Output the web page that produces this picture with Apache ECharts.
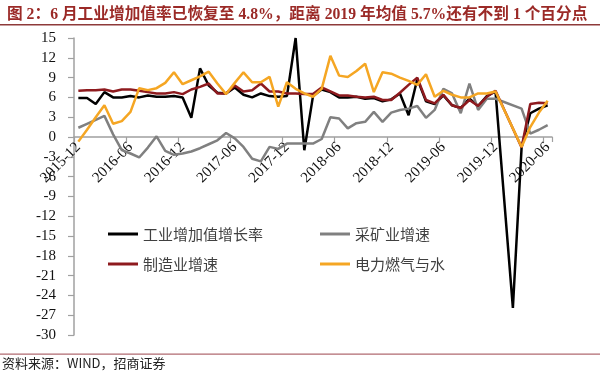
<!DOCTYPE html>
<html>
<head>
<meta charset="utf-8">
<script src="https://cdn.jsdelivr.net/npm/echarts@6/dist/echarts.min.js"></script>
<style>
html,body{margin:0;padding:0;background:#fff;}
#chart{width:600px;height:372px;}
</style>
</head>
<body>
<div id="chart"></div>
<script>
const categories = ['2015-12','2016-01','2016-02','2016-03','2016-04','2016-05','2016-06','2016-07','2016-08','2016-09','2016-10','2016-11',
'2016-12','2017-01','2017-02','2017-03','2017-04','2017-05','2017-06','2017-07','2017-08','2017-09','2017-10','2017-11',
'2017-12','2018-01','2018-02','2018-03','2018-04','2018-05','2018-06','2018-07','2018-08','2018-09','2018-10','2018-11',
'2018-12','2019-01','2019-02','2019-03','2019-04','2019-05','2019-06','2019-07','2019-08','2019-09','2019-10','2019-11',
'2019-12','2020-01','2020-02','2020-03','2020-04','2020-05','2020-06'];

const seriesNames = ['工业增加值增长率','采矿业增速','制造业增速','电力燃气与水'];

const industry = [5.9,5.9,5.0,6.8,6.0,6.0,6.2,6.0,6.3,6.1,6.1,6.2,
6.0,2.9,10.4,7.8,6.7,6.6,7.5,6.4,6.0,6.6,6.2,6.1,
6.2,15.0,-2.0,6.2,7.2,6.8,6.0,6.0,6.1,5.8,5.9,5.4,
5.7,6.6,3.3,8.8,5.4,5.0,6.3,4.8,4.4,5.8,4.7,6.2,
6.9,null,-25.9,-1.6,3.6,4.3,4.8];

const mining = [1.4,2.0,2.6,3.2,0.4,-2.0,-2.5,-3.1,-1.6,0.1,-2.1,-2.7,
-2.5,-2.2,-1.7,-1.1,-0.5,0.6,-0.2,-1.5,-3.3,-3.7,-1.5,-1.8,
-1.0,-1.0,-1.0,-1.0,-0.3,3.0,2.8,1.3,2.1,2.3,3.8,2.3,
3.7,4.1,4.3,4.7,2.9,4.1,7.3,6.6,3.6,8.1,4.1,5.8,
5.8,null,null,4.3,0.5,1.1,1.8];

const manufacturing = [7.0,7.1,7.1,7.2,6.9,7.2,7.2,7.0,6.8,6.6,6.6,6.8,
6.5,7.2,7.6,8.1,6.6,6.6,7.8,6.9,7.1,8.1,6.9,6.9,
6.6,6.6,6.5,6.5,7.5,6.9,6.3,6.3,6.1,6.0,6.1,5.6,
5.6,6.7,7.9,9.0,5.6,5.1,6.4,4.8,4.4,5.6,4.7,6.1,
7.0,null,null,-1.6,5.0,5.2,5.1];

const utilities = [-0.7,1.1,3.0,4.8,2.0,2.4,3.8,7.4,7.1,7.4,8.2,9.8,
8.0,8.6,9.2,9.9,8.1,6.5,8.2,9.8,8.3,8.3,9.1,4.6,
8.3,7.3,6.6,6.1,7.3,12.3,9.3,9.1,10.0,11.1,6.8,9.8,
9.6,9.0,8.5,7.9,9.5,6.1,7.0,6.4,6.0,6.0,6.6,6.6,
6.9,null,null,-1.5,1.5,3.7,5.5];

const yMin = -30, yMax = 15, yStep = 3;

const colors = ['#000000','#808080','#8e1a1e','#f5a623'];
const serif = "'Liberation Serif','Noto Sans CJK SC',serif";
const cjk = "'Noto Sans CJK SC','Liberation Serif',sans-serif";

const gridTop = 38, gridBottom = 37, H = 372;
const plotH = H - gridTop - gridBottom;
const zeroOffset = (0 - yMin) / (yMax - yMin) * plotH;

const chart = echarts.init(document.getElementById('chart'), null, {renderer:'canvas'});

function legendAt(name, left, top){
  return {
    data:[name], left:left, top:top, orient:'horizontal',
    icon:'rect', itemWidth:30, itemHeight:3, itemGap:4,
    textStyle:{fontFamily:cjk, fontSize:15, color:'#404040', lineHeight:16, padding:[0,0,0,0]},
    selectedMode:false
  };
}

const allData = [industry, mining, manufacturing, utilities];

chart.setOption({
  animation:false,
  backgroundColor:'#ffffff',
  title:{
    text:'图 2：6 月工业增加值率已恢复至 4.8%，距离 2019 年均值 5.7%还有不到 1 个百分点',
    left:2, top:2,
    textStyle:{fontFamily:serif, fontSize:15.7, fontWeight:'bold', color:'#9b2a27'}
  },
  graphic:[
    {type:'rect', shape:{x:0,y:24,width:600,height:1.5}, style:{fill:'#8e3a3a'}},
    {type:'rect', shape:{x:0,y:353.5,width:600,height:1.2}, style:{fill:'#b06a70'}},
    {type:'text', left:2, top:357, style:{text:'资料来源：WIND，招商证券', font:"13px 'Noto Sans CJK SC'", fill:'#222'}}
  ],
  legend:[
    legendAt(seriesNames[0], 103, 221),
    legendAt(seriesNames[1], 315, 221),
    legendAt(seriesNames[2], 103, 251),
    legendAt(seriesNames[3], 315, 251)
  ],
  grid:{left:74, right:48, top:gridTop, bottom:gridBottom, containLabel:false, outerBoundsMode:'none'},
  xAxis:{
    type:'category', data:categories, boundaryGap:true, position:'bottom',
    offset:-zeroOffset,
    axisLine:{onZero:false, lineStyle:{color:'#a0a0a0', width:1.5}},
    axisTick:{show:true, interval:5, length:5, lineStyle:{color:'#a0a0a0', width:1.2}},
    axisLabel:{interval:5, rotate:45, margin:8, fontFamily:serif, fontSize:15, color:'#111'},
    splitLine:{show:false}
  },
  yAxis:{
    type:'value', min:yMin, max:yMax, interval:yStep,
    axisLine:{show:true, lineStyle:{color:'#a0a0a0', width:1.5}},
    axisTick:{show:true, length:6, lineStyle:{color:'#a0a0a0', width:1.2}},
    axisLabel:{margin:18, fontFamily:serif, fontSize:15, color:'#111'},
    splitLine:{show:false}
  },
  series: seriesNames.map((n,i)=>({
    name:n, type:'line', data:allData[i], connectNulls:true,
    symbol:'none', showSymbol:false,
    lineStyle:{color:colors[i], width:2.5},
    itemStyle:{color:colors[i]}
  }))
});
</script>
</body>
</html>
